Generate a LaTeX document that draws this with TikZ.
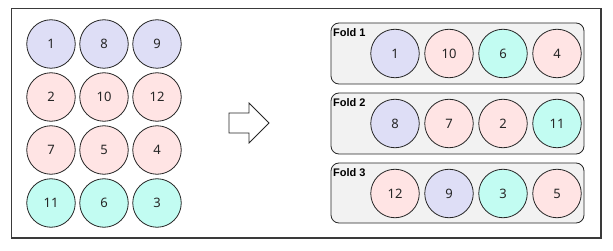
\documentclass[tikz,border=0pt]{standalone}
\usepackage{fontspec}
\setmainfont{Noto Sans}
\newfontfamily\labelfont{Liberation Sans}
\definecolor{cLav}{HTML}{DEDEF6}
\definecolor{cPink}{HTML}{FFE4E4}
\definecolor{cCyan}{HTML}{C2FCF2}
\definecolor{cBox}{HTML}{F2F2F2}
\definecolor{cFrame}{HTML}{3A3A3A}
\begin{document}
\begin{tikzpicture}[x=1pt,y=-1pt,
  ball/.style={circle,draw=black!85,line width=0.8pt,minimum size=48.5pt,inner sep=0pt,font=\fontsize{13}{13}\selectfont,text=black!85},
  lav/.style={ball,fill=cLav},
  pink/.style={ball,fill=cPink},
  cyan/.style={ball,fill=cCyan},
  foldbox/.style={draw=black!85,fill=cBox,line width=0.8pt,rounded corners=8pt},
  foldlabel/.style={anchor=north west,inner sep=0pt,font=\labelfont\bfseries\fontsize{11}{11}\selectfont}
]
\useasboundingbox (0,0) rectangle (613,251);
\draw[draw=cFrame,line width=1.3pt,fill=white] (11.5,8.5) rectangle (601,238);
% left grid
\node[lav]  (g1)  at (51,44) {1};
\node[lav]  (g8)  at (104,44) {8};
\node[lav]  (g9)  at (157,44) {9};
\node[pink] (g2)  at (51,97) {2};
\node[pink] (g10) at (104,97) {10};
\node[pink] (g12) at (157,97) {12};
\node[pink] (g7)  at (51,150) {7};
\node[pink] (g5)  at (104,150) {5};
\node[pink] (g4)  at (157,150) {4};
\node[cyan] (g11) at (51,203) {11};
\node[cyan] (g6)  at (104,203) {6};
\node[cyan] (g3)  at (157,203) {3};
% arrow
\draw[black!85,line width=0.8pt,fill=white] (229,113) -- (249,113) -- (249,103) -- (269,123) -- (249,143) -- (249,133) -- (229,133) -- cycle;
% folds
\draw[foldbox] (331,23) rectangle (584,84);
\draw[foldbox] (331,93) rectangle (584,154);
\draw[foldbox] (331,163) rectangle (584,223);
\node[foldlabel] (l1) at (333,28) {Fold 1};
\node[foldlabel] (l2) at (333,98) {Fold 2};
\node[foldlabel] (l3) at (333,168) {Fold 3};
\node[lav]  (a1) at (395,53.5) {1};
\node[pink] (a2) at (449,53.5) {10};
\node[cyan] (a3) at (503,53.5) {6};
\node[pink] (a4) at (557,53.5) {4};
\node[lav]  (b1) at (395,123.5) {8};
\node[pink] (b2) at (449,123.5) {7};
\node[pink] (b3) at (503,123.5) {2};
\node[cyan] (b4) at (557,123.5) {11};
\node[pink] (c1) at (395,193.5) {12};
\node[lav]  (c2) at (449,193.5) {9};
\node[cyan] (c3) at (503,193.5) {3};
\node[pink] (c4) at (557,193.5) {5};
\end{tikzpicture}
\end{document}
